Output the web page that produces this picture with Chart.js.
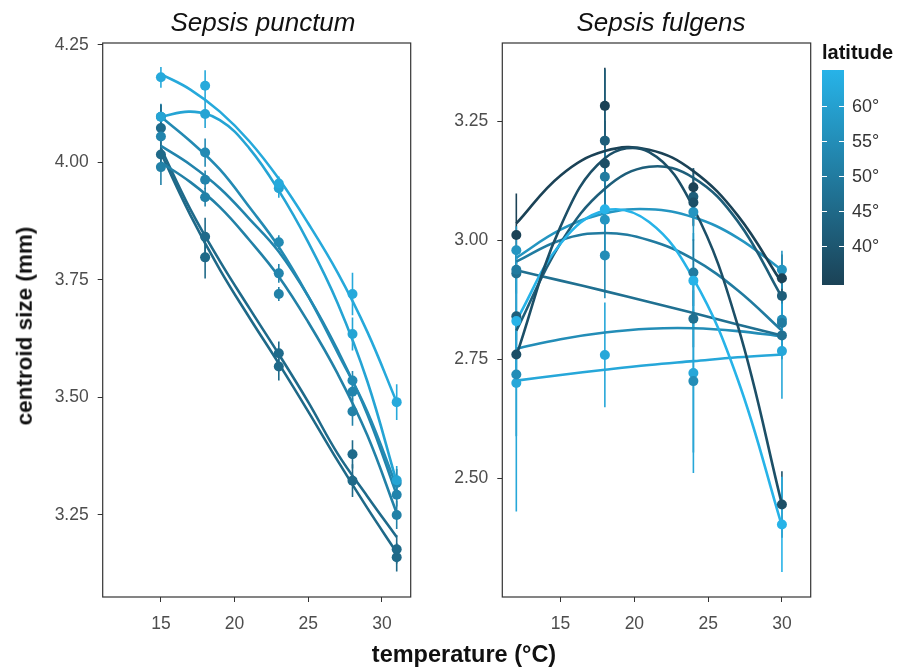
<!DOCTYPE html>
<html><head><meta charset="utf-8">
<script src="https://cdn.jsdelivr.net/npm/chart.js@4.4.0/dist/chart.umd.min.js"></script>
<style>
html,body{margin:0;padding:0;background:#fff;}
#wrap{position:relative;width:907px;height:667px;overflow:hidden;font-family:"Liberation Sans",Arial,Helvetica,sans-serif;}
canvas{position:absolute;left:0;top:0;}
.t{position:absolute;white-space:nowrap;color:#111;line-height:1;}
#title1,#title2{font-style:italic;font-size:26px;top:9px;transform:translateX(-50%);}
#title1{left:263px;}
#title2{left:661px;}
#ytitle{font-weight:bold;font-size:22.5px;left:25px;top:326px;transform:translate(-50%,-50%) rotate(-90deg);}
#xtitle{font-weight:bold;font-size:23.5px;left:464px;top:643px;transform:translateX(-50%);}
#legtitle{font-weight:bold;font-size:20px;left:822px;top:42px;}
#bar{position:absolute;left:822px;top:70px;width:22px;height:215px;}
.lab{position:absolute;font-size:18px;color:#333;left:852px;transform:translateY(-50%);line-height:1;}
.tk{position:absolute;height:1px;width:5px;background:#fff;}
</style></head><body>
<div id="wrap">
<canvas id="c1" width="907" height="667"></canvas>
<canvas id="c2" width="907" height="667"></canvas>
<div class="t" id="title1">Sepsis punctum</div>
<div class="t" id="title2">Sepsis fulgens</div>
<div class="t" id="ytitle">centroid size (mm)</div>
<div class="t" id="xtitle">temperature (°C)</div>
<div class="t" id="legtitle">latitude</div>
<div id="bar"></div>
</div>
<script>
// ---------------- data ----------------
const xTicks = [15, 20, 25, 30];
const punctumYTicks = [3.25, 3.50, 3.75, 4.00, 4.25];
const fulgensYTicks = [2.50, 2.75, 3.00, 3.25];
const latitudeTicks = [40, 45, 50, 55, 60];

// Sepsis punctum
const punctumTemps = [15, 18, 23, 28, 31];
const punctumLatitude = [62.5, 61, 54, 52.5, 51.5, 45.5, 45];
const punctumSize = [
  [4.181, 4.163, 3.955, 3.720, 3.490],
  [4.097, 4.103, 3.945, 3.635, 3.324],
  [4.097, 4.021, 3.830, 3.536, 3.318],
  [4.055, 3.963, 3.764, 3.512, 3.293],
  [3.990, 3.926, 3.720, 3.470, 3.250],
  [4.073, 3.842, 3.594, 3.379, 3.177],
  [4.017, 3.798, 3.566, 3.323, 3.160]
];
const punctumSE = [
  [0.022, 0.033, 0.015, 0.045, 0.038],
  [0.025, 0.030, 0.020, 0.035, 0.030],
  [0.028, 0.030, 0.015, 0.020, 0.030],
  [0.020, 0.020, 0.020, 0.020, 0.025],
  [0.038, 0.020, 0.015, 0.030, 0.030],
  [0.050, 0.040, 0.025, 0.030, 0.030],
  [0.020, 0.045, 0.030, 0.035, 0.030]
];
const punctumFitTemps = [15, 17, 19, 21, 23, 25, 27, 29, 31];
const punctumFit = [
  [4.188, 4.155, 4.108, 4.045, 3.965, 3.870, 3.765, 3.640, 3.490],
  [4.097, 4.108, 4.090, 4.030, 3.940, 3.830, 3.700, 3.535, 3.320],
  [4.097, 4.045, 3.985, 3.905, 3.820, 3.715, 3.595, 3.470, 3.310],
  [4.035, 3.995, 3.945, 3.880, 3.810, 3.715, 3.600, 3.465, 3.293],
  [4.000, 3.958, 3.905, 3.835, 3.757, 3.660, 3.550, 3.420, 3.254],
  [4.030, 3.900, 3.790, 3.690, 3.592, 3.490, 3.380, 3.290, 3.203],
  [4.020, 3.888, 3.772, 3.670, 3.572, 3.470, 3.365, 3.265, 3.170]
];

// Sepsis fulgens
const fulgensTemps = [12, 18, 24, 30];
const fulgensLatitude = [38, 65.2, 34.5, 42, 57, 50, 47, 55, 62];
const fulgensSize = [
  [2.760, 3.161, 3.079, 2.445],
  [2.830, 3.065, 2.915, 2.403],
  [3.011, 3.282, 3.111, 2.920],
  [2.840, 3.209, 3.091, 2.883],
  [2.979, 3.043, 3.059, 2.938],
  [2.938, 3.133, 2.932, 2.826],
  [2.930, null, 2.835, 2.800],
  [2.718, 2.968, 2.704, 2.833],
  [2.700, 2.759, 2.721, 2.767]
];
const fulgensSE = [
  [0.05, 0.09, 0.05, 0.07],
  [0.10, 0.05, 0.10, 0.10],
  [0.087, 0.08, 0.04, 0.05],
  [0.05, 0.15, 0.06, 0.05],
  [0.05, 0.08, 0.06, 0.04],
  [0.05, 0.06, 0.07, 0.05],
  [0.04, null, 0.06, 0.05],
  [0.13, 0.09, 0.15, 0.05],
  [0.27, 0.11, 0.21, 0.10]
];
const fulgensFitTemps = [12, 15, 18, 21, 24, 27, 30];
const fulgensFit = [
  [2.757, 3.029, 3.172, 3.185, 3.068, 2.821, 2.445],
  [2.831, 2.993, 3.062, 3.038, 2.919, 2.708, 2.400],
  [3.035, 3.136, 3.187, 3.190, 3.145, 3.052, 2.910],
  [2.810, 2.994, 3.108, 3.154, 3.131, 3.040, 2.880],
  [2.963, 3.022, 3.056, 3.065, 3.048, 3.005, 2.937],
  [2.955, 3.000, 3.015, 3.000, 2.960, 2.895, 2.810],
  [2.937, 2.915, 2.893, 2.870, 2.847, 2.823, 2.800],
  [2.772, 2.792, 2.806, 2.814, 2.815, 2.809, 2.798],
  [2.705, 2.717, 2.728, 2.738, 2.746, 2.754, 2.760]
];

// ---------------- styling ----------------
const LAT_MIN = 34.5, LAT_MAX = 65.2;
const LOW = [27, 66, 86], HIGH = [39, 179, 232];
function latColor(lat) {
  const t = Math.max(0, Math.min(1, (lat - LAT_MIN) / (LAT_MAX - LAT_MIN)));
  const c = LOW.map((l, i) => Math.round(l + (HIGH[i] - l) * t));
  return `rgb(${c[0]},${c[1]},${c[2]})`;
}

const frameAndErrors = {
  id: 'frameAndErrors',
  beforeDatasetsDraw(chart) {
    const ctx = chart.ctx, xs = chart.scales.x, ys = chart.scales.y;
    ctx.save();
    ctx.beginPath();
    const a = chart.chartArea;
    ctx.rect(a.left, a.top, a.right - a.left, a.bottom - a.top);
    ctx.clip();
    chart.data.datasets.forEach(ds => {
      if (!ds.se) return;
      ctx.strokeStyle = ds.pointBackgroundColor;
      ctx.lineWidth = 1.6;
      ds.data.forEach((p, i) => {
        const e = ds.se[i];
        if (p.y == null || e == null) return;
        const x = xs.getPixelForValue(p.x);
        ctx.beginPath();
        ctx.moveTo(x, ys.getPixelForValue(p.y - e));
        ctx.lineTo(x, ys.getPixelForValue(p.y + e));
        ctx.stroke();
      });
    });
    ctx.restore();
  },
  afterDraw(chart) {
    const a = chart.chartArea, ctx = chart.ctx;
    ctx.save();
    ctx.strokeStyle = '#333';
    ctx.lineWidth = 1.2;
    ctx.strokeRect(a.left, a.top, a.right - a.left, a.bottom - a.top);
    ctx.restore();
  }
};

function buildDatasets(temps, sizes, se, fitTemps, fits, lats) {
  const ds = [];
  lats.forEach((lat, k) => {
    const col = latColor(lat);
    ds.push({
      type: 'line', label: 'fit' + k,
      data: fitTemps.map((t, i) => ({ x: t, y: fits[k][i] })),
      borderColor: col, borderWidth: 2.6, pointRadius: 0, tension: 0.4,
      fill: false, order: 2
    });
    ds.push({
      type: 'line', label: 'pts' + k, showLine: false,
      data: temps.map((t, i) => ({ x: t, y: sizes[k][i] })),
      se: se[k],
      pointRadius: 5, pointBackgroundColor: col, pointBorderWidth: 0,
      borderColor: col, order: 1
    });
  });
  return ds;
}

function makeChart(id, datasets, yMin, yMax, yTicks, padLeft, yWidth, padRight) {
  return new Chart(document.getElementById(id), {
    type: 'line',
    data: { datasets },
    plugins: [frameAndErrors],
    options: {
      responsive: false, animation: false, events: [],
      layout: { padding: { left: padLeft, top: 43, right: padRight, bottom: 0 } },
      plugins: { legend: { display: false }, tooltip: { enabled: false }, title: { display: false } },
      scales: {
        x: {
          type: 'linear', min: 11.05, max: 31.95,
          afterBuildTicks: ax => { ax.ticks = xTicks.map(v => ({ value: v })); },
          afterFit: ax => { ax.height = 70; },
          ticks: { autoSkip: false, maxRotation: 0, color: '#4d4d4d', padding: 12,
                   font: { family: 'Liberation Sans', size: 17.5 }, callback: v => String(v) },
          grid: { drawOnChartArea: false, drawTicks: true, tickLength: 5, color: '#333', lineWidth: 1 },
          border: { display: false }
        },
        y: {
          type: 'linear', min: yMin, max: yMax,
          afterBuildTicks: ax => { ax.ticks = yTicks.map(v => ({ value: v })); },
          afterFit: ax => { ax.width = yWidth; },
          ticks: { autoSkip: false, color: '#4d4d4d', padding: 9,
                   font: { family: 'Liberation Sans', size: 17.5 }, callback: v => Number(v).toFixed(2) },
          grid: { drawOnChartArea: false, drawTicks: true, tickLength: 5, color: '#333', lineWidth: 1 },
          border: { display: false }
        }
      }
    }
  });
}

makeChart('c1',
  buildDatasets(punctumTemps, punctumSize, punctumSE, punctumFitTemps, punctumFit, punctumLatitude),
  3.0755, 4.254, punctumYTicks, 0, 102.7, 907 - 410.7);
makeChart('c2',
  buildDatasets(fulgensTemps, fulgensSize, fulgensSE, fulgensFitTemps, fulgensFit, fulgensLatitude),
  2.2507, 3.414, fulgensYTicks, 430, 72.3, 907 - 810.7);

// ---------------- colour bar legend ----------------
const bar = document.getElementById('bar');
bar.style.background = `linear-gradient(to top, ${latColor(LAT_MIN)}, ${latColor(LAT_MAX)})`;
const wrap = document.getElementById('wrap');
const barTop = 70, barH = 215;
latitudeTicks.forEach(v => {
  const y = barTop + barH * (LAT_MAX - v) / (LAT_MAX - LAT_MIN);
  const l = document.createElement('div'); l.className = 'lab'; l.style.top = y + 'px'; l.textContent = v + '°';
  wrap.appendChild(l);
  [822, 839].forEach(x => {
    const t = document.createElement('div'); t.className = 'tk'; t.style.left = x + 'px'; t.style.top = (y - 0.5) + 'px';
    wrap.appendChild(t);
  });
});
</script>
</body></html>
